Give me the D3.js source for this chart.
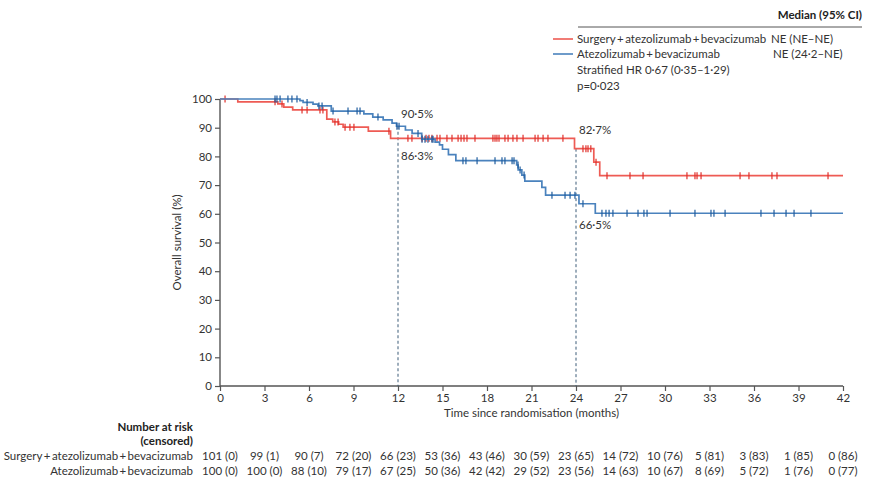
<!DOCTYPE html>
<html>
<head>
<meta charset="utf-8">
<script src="https://cdn.jsdelivr.net/npm/d3@7"></script>
<style>
  body { margin: 0; background: #fff; }
  svg { display: block; font-family: Lato, "Open Sans", sans-serif; }
</style>
</head>
<body>
<div id="chart"></div>
<script>
// ---------------------------------------------------------------------------
// Data
// ---------------------------------------------------------------------------
const xTicks = [0, 3, 6, 9, 12, 15, 18, 21, 24, 27, 30, 33, 36, 39, 42];
const yTicks = [0, 10, 20, 30, 40, 50, 60, 70, 80, 90, 100];

// KM step drops: time (months) and survival (%) after the drop
const surgeryStepTimes = [0, 1.2, 3.9, 4.3, 4.9, 7.2, 7.6, 8.0, 8.3, 10.0, 11.5, 23.9, 25.2, 25.6];
const surgeryStepValues = [100, 99.0, 98.3, 97.2, 96.2, 93.0, 92.0, 91.2, 90.2, 88.8, 86.3, 82.7, 78.0, 73.3];
const surgeryCensored = [0.34, 3.71, 4.18, 5.53, 5.87, 6.74, 6.94, 7.75, 7.96, 8.43, 8.76, 9.03,
  11.39, 12.67, 12.94, 13.62, 13.89, 14.09, 14.29, 14.63, 14.83, 15.30, 15.64, 16.05, 16.25,
  16.45, 16.65, 17.19, 18.40, 18.54, 18.67, 18.81, 19.21, 19.42, 19.75, 20.02, 20.43, 21.24,
  21.44, 21.78, 22.11, 23.12, 24.47, 24.67, 24.81, 25.0, 25.35, 26.09, 27.64, 28.52, 31.48,
  32.02, 32.16, 32.43, 35.06, 35.66, 37.21, 37.55, 40.99];

const atezoStepTimes = [0, 5.39, 5.6, 6.27, 6.6, 7.5, 9.7, 10.3, 11.0, 11.6, 11.9, 12.5, 12.95,
  13.6, 14.5, 14.8, 15.0, 15.4, 15.9, 20.0, 20.1, 20.35, 20.55, 21.7, 21.95, 24.2, 25.3];
const atezoStepValues = [100, 99.4, 98.8, 98.2, 97.6, 95.8, 94.8, 93.7, 92.7, 91.6, 90.5, 89.2, 88.0,
  86.0, 85.0, 84.0, 82.5, 80.6, 78.5, 77.0, 75.3, 73.5, 71.4, 69.2, 66.5, 63.5, 60.2];
const atezoCensored = [3.71, 3.84, 4.05, 4.58, 4.85, 5.19, 5.87, 6.67, 6.88, 7.62, 8.63, 9.24,
  9.44, 10.65, 11.93, 12.07, 13.35, 13.62, 13.82, 14.02, 14.29, 14.36, 16.38, 16.58, 17.33,
  18.54, 19.01, 19.21, 19.69, 19.82, 20.09, 20.23, 20.50, 22.38, 23.26, 23.60, 23.93, 24.47,
  25.75, 26.02, 26.23, 26.49, 27.44, 28.18, 28.58, 28.79, 30.34, 32.02, 33.10, 33.30, 34.05,
  36.47, 37.35, 38.16, 38.70, 39.84];

// Landmark annotations
const landmarkTimes = [12, 24];
const landmarkLabels = [
  { t: 12, value: 90.5, text: '90·5%' },
  { t: 12, value: 86.3, text: '86·3%' },
  { t: 24, value: 82.7, text: '82·7%' },
  { t: 24, value: 66.5, text: '66·5%' }
];
// vertical offset of each label from its value, in px
const landmarkOffsets = [-8, 22, -15, 34];

// Number at risk table
const riskTimes = [0, 3, 6, 9, 12, 15, 18, 21, 24, 27, 30, 33, 36, 39, 42];
const surgeryAtRisk = ['101 (0)', '99 (1)', '90 (7)', '72 (20)', '66 (23)', '53 (36)', '43 (46)',
  '30 (59)', '23 (65)', '14 (72)', '10 (76)', '5 (81)', '3 (83)', '1 (85)', '0 (86)'];
const atezoAtRisk = ['100 (0)', '100 (0)', '88 (10)', '79 (17)', '67 (25)', '50 (36)', '42 (42)',
  '29 (52)', '23 (56)', '14 (63)', '10 (67)', '8 (69)', '5 (72)', '1 (76)', '0 (77)'];

const SURGERY_NAME = 'Surgery\u2009+\u2009atezolizumab\u2009+\u2009bevacizumab';
const ATEZO_NAME = 'Atezolizumab\u2009+\u2009bevacizumab';

// ---------------------------------------------------------------------------
// Visual config
// ---------------------------------------------------------------------------
const RED_LINE = '#ee5b54';
const RED_TICK = '#e0302b';
const BLUE_LINE = '#4a82bd';
const BLUE_TICK = '#1f5c9e';
const AXIS_COLOR = '#555';
const TEXT_COLOR = '#333';
const DASH_COLOR = '#3d5c78';
const FONT_SIZE = '11.5px';

const width = 869;
const height = 485;
const plot = { left: 220, right: 843, top: 99, bottom: 386 };

const svg = d3.select('#chart').append('svg')
  .attr('width', width)
  .attr('height', height);

const x = d3.scaleLinear().domain([0, 42]).range([plot.left, plot.right]);
const y = d3.scaleLinear().domain([0, 100]).range([plot.bottom, plot.top]);

// step function lookup for censor marks
function survivalAt(times, values, t) {
  let v = values[0];
  for (let i = 0; i < times.length; i++) {
    if (times[i] <= t) v = values[i];
  }
  return v;
}

function stepPoints(times, values, end) {
  const pts = times.map((t, i) => [t, values[i]]);
  pts.push([end, values[values.length - 1]]);
  return pts;
}

// Axes
const yAxis = d3.axisLeft(y).tickValues(yTicks).tickSize(5).tickPadding(3);
const xAxis = d3.axisBottom(x).tickValues(xTicks).tickSize(5).tickPadding(3);

const gy = svg.append('g')
  .attr('transform', `translate(${plot.left},0)`)
  .call(yAxis);
const gx = svg.append('g')
  .attr('transform', `translate(0,${plot.bottom})`)
  .call(xAxis);

[gx, gy].forEach(g => {
  g.select('.domain').attr('stroke', AXIS_COLOR).attr('stroke-width', 1.4);
  g.selectAll('.tick line').attr('stroke', AXIS_COLOR).attr('stroke-width', 1.2);
  g.selectAll('.tick text')
    .attr('fill', TEXT_COLOR)
    .style('font-size', FONT_SIZE)
    .style('font-family', 'Lato, "Open Sans", sans-serif');
});
// plain axis lines, no outer tick stubs
gy.select('.domain').attr('d', `M0,${plot.top}V${plot.bottom}`);
gx.select('.domain').attr('d', `M${plot.left},0H${plot.right}`);

// Axis titles
svg.append('text')
  .attr('transform', `translate(181,${(plot.top + plot.bottom) / 2}) rotate(-90)`)
  .attr('text-anchor', 'middle')
  .attr('fill', TEXT_COLOR)
  .style('font-size', FONT_SIZE)
  .text('Overall survival (%)');

svg.append('text')
  .attr('x', (plot.left + plot.right) / 2)
  .attr('y', 417)
  .attr('text-anchor', 'middle')
  .attr('fill', TEXT_COLOR)
  .style('font-size', FONT_SIZE)
  .text('Time since randomisation (months)');

// Landmark dashed lines
landmarkTimes.forEach(t => {
  const top = Math.max(
    survivalAt(surgeryStepTimes, surgeryStepValues, t),
    survivalAt(atezoStepTimes, atezoStepValues, t)
  );
  svg.append('line')
    .attr('x1', x(t)).attr('x2', x(t))
    .attr('y1', y(top)).attr('y2', plot.bottom)
    .attr('stroke', DASH_COLOR)
    .attr('stroke-width', 1)
    .attr('stroke-dasharray', '3,2.5');
});

// KM curves
const line = d3.line()
  .x(d => x(d[0]))
  .y(d => y(d[1]))
  .curve(d3.curveStepAfter);

const series = [
  { times: surgeryStepTimes, values: surgeryStepValues, cens: surgeryCensored, end: 42, line: RED_LINE, tick: RED_TICK },
  { times: atezoStepTimes, values: atezoStepValues, cens: atezoCensored, end: 42, line: BLUE_LINE, tick: BLUE_TICK }
];

series.forEach(s => {
  svg.append('path')
    .datum(stepPoints(s.times, s.values, s.end))
    .attr('fill', 'none')
    .attr('stroke', s.line)
    .attr('stroke-width', 1.7)
    .attr('d', line);

  svg.append('g')
    .selectAll('line')
    .data(s.cens)
    .enter()
    .append('line')
    .attr('x1', d => x(d))
    .attr('x2', d => x(d))
    .attr('y1', d => y(survivalAt(s.times, s.values, d)) - 3.5)
    .attr('y2', d => y(survivalAt(s.times, s.values, d)) + 3.5)
    .attr('stroke', s.tick)
    .attr('stroke-width', 1.2);
});

// Landmark labels
svg.append('g')
  .selectAll('text')
  .data(landmarkLabels)
  .enter()
  .append('text')
  .attr('x', d => x(d.t) + 3)
  .attr('y', (d, i) => y(d.value) + landmarkOffsets[i])
  .attr('fill', TEXT_COLOR)
  .style('font-size', FONT_SIZE)
  .text(d => d.text);

// Legend
const legend = svg.append('g');
legend.append('text')
  .attr('x', 862).attr('y', 19)
  .attr('text-anchor', 'end')
  .attr('fill', '#222')
  .style('font-size', FONT_SIZE)
  .style('font-weight', 'bold')
  .text('Median (95% CI)');
legend.append('line')
  .attr('x1', 578).attr('x2', 862)
  .attr('y1', 27).attr('y2', 27)
  .attr('stroke', '#555').attr('stroke-width', 1);

const legendRows = [
  { name: SURGERY_NAME, median: 'NE (NE–NE)', color: RED_LINE, y: 43, mx: 771 },
  { name: ATEZO_NAME, median: 'NE (24·2–NE)', color: BLUE_LINE, y: 58, mx: 773 }
];
legendRows.forEach(r => {
  legend.append('line')
    .attr('x1', 553).attr('x2', 573)
    .attr('y1', r.y - 4).attr('y2', r.y - 4)
    .attr('stroke', r.color).attr('stroke-width', 1.6);
  legend.append('text')
    .attr('x', 577).attr('y', r.y)
    .attr('fill', TEXT_COLOR)
    .style('font-size', FONT_SIZE)
    .text(r.name);
  legend.append('text')
    .attr('x', r.mx).attr('y', r.y)
    .attr('fill', TEXT_COLOR)
    .style('font-size', FONT_SIZE)
    .text(r.median);
});
legend.append('text')
  .attr('x', 577).attr('y', 74)
  .attr('fill', TEXT_COLOR)
  .style('font-size', FONT_SIZE)
  .text('Stratified HR 0·67 (0·35–1·29)');
legend.append('text')
  .attr('x', 577).attr('y', 90)
  .attr('fill', TEXT_COLOR)
  .style('font-size', FONT_SIZE)
  .text('p=0·023');

// Number at risk table
const table = svg.append('g');
table.append('text')
  .attr('x', 193).attr('y', 431)
  .attr('text-anchor', 'end')
  .attr('fill', '#222')
  .style('font-size', FONT_SIZE)
  .style('font-weight', 'bold')
  .text('Number at risk');
table.append('text')
  .attr('x', 193).attr('y', 445)
  .attr('text-anchor', 'end')
  .attr('fill', '#222')
  .style('font-size', FONT_SIZE)
  .style('font-weight', 'bold')
  .text('(censored)');

const riskRows = [
  { name: SURGERY_NAME, counts: surgeryAtRisk, y: 460 },
  { name: ATEZO_NAME, counts: atezoAtRisk, y: 475 }
];
riskRows.forEach(r => {
  table.append('text')
    .attr('x', 193).attr('y', r.y)
    .attr('text-anchor', 'end')
    .attr('fill', TEXT_COLOR)
    .style('font-size', FONT_SIZE)
    .text(r.name);
  table.append('g')
    .selectAll('text')
    .data(r.counts)
    .enter()
    .append('text')
    .attr('x', (d, i) => x(riskTimes[i]))
    .attr('y', r.y)
    .attr('text-anchor', 'middle')
    .attr('fill', TEXT_COLOR)
    .style('font-size', FONT_SIZE)
    .text(d => d);
});
</script>
</body>
</html>
